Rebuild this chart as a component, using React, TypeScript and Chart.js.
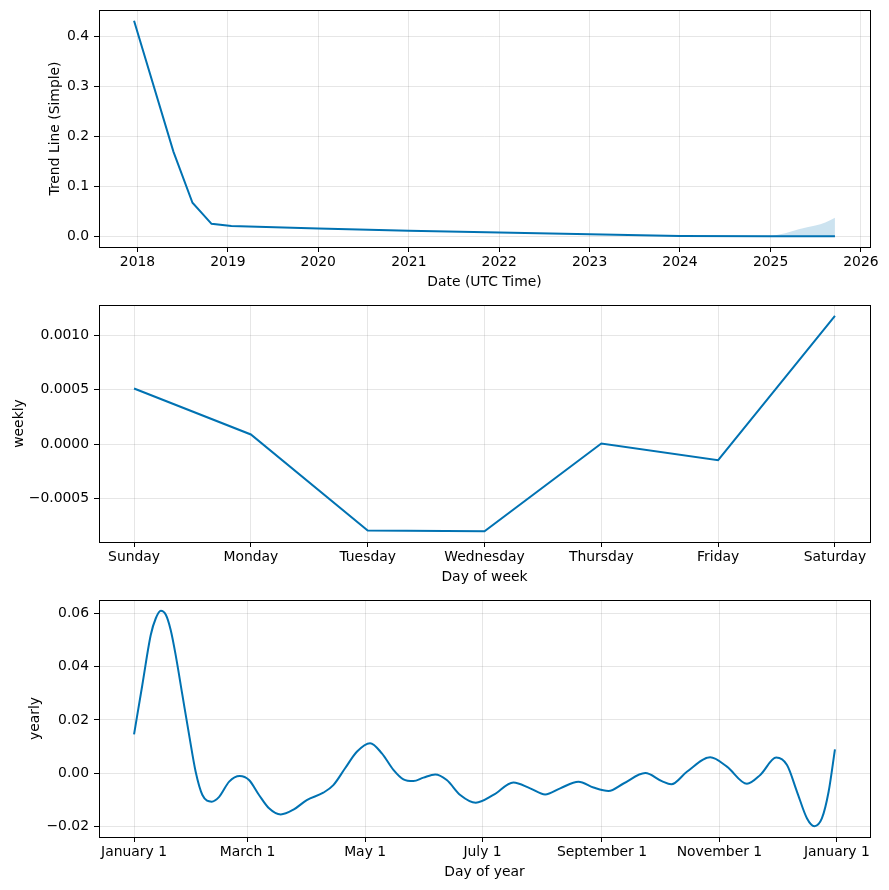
import React, { useEffect, useRef } from "react";
import { Chart, registerables } from "chart.js";

Chart.register(...registerables);

// ---------- Trend component ----------
const trendDates = [
  "2017-12-18", "2018-05-26", "2018-08-11", "2018-10-27", "2019-01-15",
  "2020-01-01", "2021-01-01", "2022-01-01", "2023-01-01", "2024-01-01",
  "2025-01-01", "2025-09-18",
];
const trendValues = [
  0.432, 0.17, 0.0675, 0.0253, 0.021, 0.016, 0.0113, 0.008, 0.0046, 0.001,
  0.0005, 0.0005,
];
const bandDates = ["2025-01-01", "2025-03-01", "2025-04-25", "2025-07-01", "2025-08-10", "2025-09-18"];
const bandUpper = [0.0005, 0.0065, 0.0147, 0.0221, 0.028, 0.0374];
const bandLower = [0.0005, 0.0005, 0.0005, 0.0005, 0.0005, 0.0005];
const trendTickYears = [2018, 2019, 2020, 2021, 2022, 2023, 2024, 2025, 2026];
const trendYTicks = [0, 0.1, 0.2, 0.3, 0.4];
const trendYTickLabels = ["0.0", "0.1", "0.2", "0.3", "0.4"];

// ---------- Weekly component ----------
const weekdays = ["Sunday", "Monday", "Tuesday", "Wednesday", "Thursday", "Friday", "Saturday"];
const weeklyValues = [0.000512, 0.0000892, -0.000793, -0.0008, 0.000006, -0.000147, 0.00118];
const weeklyYTicks = [-0.0005, 0, 0.0005, 0.001];
const weeklyYTickLabels = ["\u22120.0005", "0.0000", "0.0005", "0.0010"];

// ---------- Yearly component ----------
const yearlyDays = [
  0, 4.3, 8.7, 11.3, 13.9, 16.5, 19, 21.6, 25.1, 28.6, 32, 35.5, 40.3, 44.2,
  49.4, 54.9, 59.7, 64.9, 70.1, 76.2, 83, 89.7, 98.3, 103.5, 109.6, 115.7,
  122.6, 128.7, 134.7, 139.9, 145.1, 150.3, 156.4, 162.4, 169.4, 177.5, 186.6,
  197, 205.7, 213.5, 221.3, 230.8, 238.6, 246.4, 254.2, 265.5, 274.1, 279,
  287.1, 299.2, 307.9, 318.3, 325.2, 333.5, 339.1, 344.3, 349.5, 353.3, 357.2,
  360.7, 364,
];
const yearlyValues = [
  0.0146, 0.0331, 0.0519, 0.0581, 0.0609, 0.0594, 0.0538, 0.0444, 0.0294,
  0.0144, 0.0006, -0.0081, -0.0106, -0.0088, -0.0031, -0.001, -0.0025, -0.0081,
  -0.0131, -0.0154, -0.0135, -0.01, -0.00725, -0.0044, 0.0019, 0.0081, 0.0113,
  0.0075, 0.0013, -0.00225, -0.0029, -0.0016, -0.0004, -0.0025, -0.0081, -0.011,
  -0.0081, -0.0034, -0.0056, -0.0079, -0.0056, -0.0031, -0.0053, -0.0066,
  -0.0038, 0.0001, -0.0029, -0.0041, 0.0006, 0.006, 0.0025, -0.0039, -0.0006,
  0.0059, 0.0031, -0.0069, -0.0169, -0.0198, -0.0169, -0.0069, 0.009,
];
const yearlyTickDays = [0, 59, 120, 181, 243, 304, 365];
const yearlyTickLabels = ["January 1", "March 1", "May 1", "July 1", "September 1", "November 1", "January 1"];
const yearlyYTicks = [-0.02, 0, 0.02, 0.04, 0.06];
const yearlyYTickLabels = ["\u22120.02", "0.00", "0.02", "0.04", "0.06"];

// ---------- styling ----------
const FONT = { family: "DejaVu Sans", size: 13.9 };
const LINE_COLOR = "#0072B2";
const BAND_COLOR = "rgba(0,114,178,0.2)";
const GRID_COLOR = "rgba(128,128,128,0.2)";
const CANVAS_W = 889;
const CANVAS_H = 297;

const toMs = (d: string) => {
  const [y, m, dd] = d.split("-").map(Number);
  return Date.UTC(y, m - 1, dd);
};

const withMargin = (vals: number[]) => {
  const lo = Math.min(...vals);
  const hi = Math.max(...vals);
  const pad = (hi - lo) * 0.05;
  return [lo - pad, hi + pad];
};

const framePlugin = {
  id: "frame",
  afterDraw(chart: any) {
    const { ctx, chartArea } = chart;
    const { left, top, right, bottom } = chartArea;
    ctx.save();
    ctx.strokeStyle = "#000";
    ctx.lineWidth = 1;
    ctx.strokeRect(left + 0.5, top + 0.5, right - left, bottom - top);
    ctx.restore();
  },
};

type AxisSpec = {
  xMin: number; xMax: number; xTicks: number[]; xLabels: string[]; xTitle: string;
  yMin: number; yMax: number; yTicks: number[]; yLabels: string[]; yTitle: string; yTitleCenter: number;
};

function makeOptions(a: AxisSpec): any {
  return {
    responsive: false,
    animation: false,
    devicePixelRatio: 1,
    layout: { padding: { top: 10, right: 19, bottom: 0, left: 0 } },
    plugins: { legend: { display: false }, tooltip: { enabled: false } },
    elements: { point: { radius: 0 } },
    scales: {
      x: {
        type: "linear",
        min: a.xMin,
        max: a.xMax,
        afterBuildTicks: (s: any) => { s.ticks = a.xTicks.map((v) => ({ value: v })); },
        afterFit: (s: any) => { s.height = 50; s.paddingLeft = 0; s.paddingRight = 0; },
        ticks: {
          autoSkip: false, maxRotation: 0, minRotation: 0, color: "#000", font: FONT, padding: 2,
          callback: (_v: any, i: number) => a.xLabels[i],
        },
        grid: { color: GRID_COLOR, lineWidth: 1, drawTicks: true, tickLength: 5, tickColor: "#000", tickWidth: 1 },
        border: { display: false },
        title: { display: true, text: a.xTitle, color: "#000", font: FONT, padding: { top: 0, bottom: 6.7 } },
      },
      y: {
        type: "linear",
        min: a.yMin,
        max: a.yMax,
        afterBuildTicks: (s: any) => { s.ticks = a.yTicks.map((v) => ({ value: v })); },
        afterFit: (s: any) => { s.width = 99; s.paddingTop = 0; s.paddingBottom = 0; },
        ticks: {
          color: "#000", font: FONT, padding: 5,
          callback: (_v: any, i: number) => a.yLabels[i],
        },
        grid: { color: GRID_COLOR, lineWidth: 1, drawTicks: true, tickLength: 5, tickColor: "#000", tickWidth: 1 },
        border: { display: false },
        title: {
          display: true, text: a.yTitle, color: "#000", font: FONT,
          padding: { top: a.yTitleCenter - 8.34, bottom: 0 },
        },
      },
    },
  };
}

function Panel({ top, build }: { top: number; build: () => any }) {
  const ref = useRef<HTMLCanvasElement | null>(null);
  useEffect(() => {
    if (!ref.current) return;
    const cfg = build();
    const chart = new Chart(ref.current, { ...cfg, plugins: [framePlugin] });
    return () => chart.destroy();
  }, []);
  return (
    <canvas
      ref={ref}
      width={CANVAS_W}
      height={CANVAS_H}
      style={{ position: "absolute", left: 0, top, width: CANVAS_W, height: CANVAS_H, display: "block" }}
    />
  );
}

function buildTrend() {
  const trendX = trendDates.map(toMs);
  const bandX = bandDates.map(toMs);
  const [xMin, xMax] = withMargin(trendX);
  const [yMin, yMax] = withMargin([...trendValues, ...bandUpper, ...bandLower]);
  return {
    type: "line",
    data: {
      datasets: [
        {
          data: trendX.map((x, i) => ({ x, y: trendValues[i] })),
          borderColor: LINE_COLOR, borderWidth: 2, pointRadius: 0, fill: false, tension: 0,
        },
        {
          data: bandX.map((x, i) => ({ x, y: bandLower[i] })),
          borderColor: "transparent", borderWidth: 1, pointRadius: 0, fill: false,
        },
        {
          data: bandX.map((x, i) => ({ x, y: bandUpper[i] })),
          borderColor: "transparent", borderWidth: 1, pointRadius: 0,
          fill: "-1", backgroundColor: BAND_COLOR, cubicInterpolationMode: "monotone",
        },
      ],
    },
    options: makeOptions({
      xMin, xMax,
      xTicks: trendTickYears.map((y) => Date.UTC(y, 0, 1)),
      xLabels: trendTickYears.map(String),
      xTitle: "Date (UTC Time)",
      yMin, yMax, yTicks: trendYTicks, yLabels: trendYTickLabels,
      yTitle: "Trend Line (Simple)", yTitleCenter: 55,
    }),
  };
}

function buildWeekly() {
  const xs = weekdays.map((_, i) => i);
  const [xMin, xMax] = withMargin(xs);
  const [yMin, yMax] = withMargin(weeklyValues);
  return {
    type: "line",
    data: {
      datasets: [
        {
          data: xs.map((x, i) => ({ x, y: weeklyValues[i] })),
          borderColor: LINE_COLOR, borderWidth: 2, pointRadius: 0, fill: false, tension: 0,
        },
      ],
    },
    options: makeOptions({
      xMin, xMax, xTicks: xs, xLabels: weekdays, xTitle: "Day of week",
      yMin, yMax, yTicks: weeklyYTicks, yLabels: weeklyYTickLabels,
      yTitle: "weekly", yTitleCenter: 19,
    }),
  };
}

function buildYearly() {
  const [xMin, xMax] = withMargin([0, 364]);
  const [yMin, yMax] = withMargin(yearlyValues);
  return {
    type: "line",
    data: {
      datasets: [
        {
          data: yearlyDays.map((x, i) => ({ x, y: yearlyValues[i] })),
          borderColor: LINE_COLOR, borderWidth: 2, pointRadius: 0, fill: false,
          cubicInterpolationMode: "monotone",
        },
      ],
    },
    options: makeOptions({
      xMin, xMax, xTicks: yearlyTickDays, xLabels: yearlyTickLabels, xTitle: "Day of year",
      yMin, yMax, yTicks: yearlyYTicks, yLabels: yearlyYTickLabels,
      yTitle: "yearly", yTitleCenter: 35.5,
    }),
  };
}

export default function App() {
  return (
    <div style={{ position: "absolute", left: 0, top: 0, width: 889, height: 890, background: "#fff" }}>
      <Panel top={0} build={buildTrend} />
      <Panel top={295} build={buildWeekly} />
      <Panel top={590} build={buildYearly} />
    </div>
  );
}
